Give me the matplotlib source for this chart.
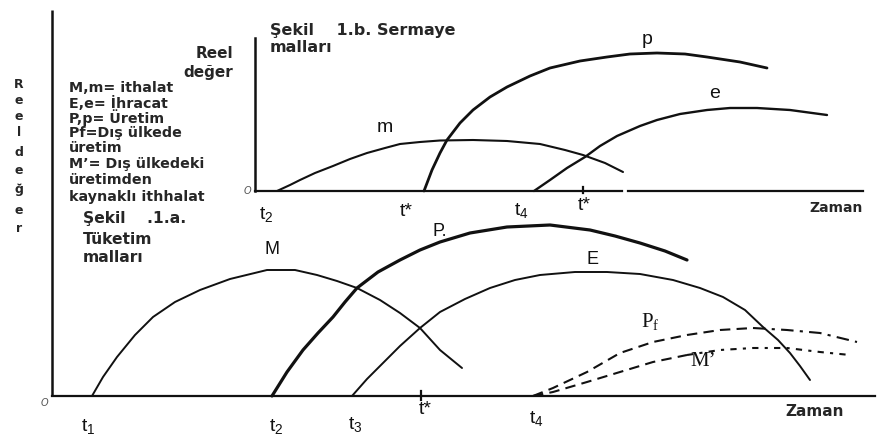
import matplotlib
matplotlib.use("Agg")
import matplotlib.pyplot as plt

plt.rcParams['mathtext.default'] = 'regular'

# ---- curve data (figure-pixel coordinates, y downwards) ----
# Top panel (Şekil 1.b. Sermaye malları)
m_x = [277, 290, 300, 315, 333, 350, 367, 385, 400, 420, 440, 473, 507, 540, 565, 583, 605, 623]
m_y = [191, 185, 180, 173, 166, 159, 153, 148, 144, 142, 140.5, 140, 141, 144, 150, 155, 163, 172]
p_x = [424, 432, 440, 447, 460, 473, 490, 507, 530, 550, 580, 607, 630, 657, 685, 707, 740, 767]
p_y = [191, 170, 153, 140, 123, 110, 97, 87, 76, 68, 61, 57, 54, 53, 54, 57, 62, 68]
e_x = [534, 550, 567, 585, 600, 617, 640, 657, 680, 707, 730, 757, 790, 827]
e_y = [191, 180, 168, 157, 146, 136, 126, 120, 114, 110, 108, 108, 110, 115]

# Bottom panel (Şekil 1.a. Tüketim malları)
M_x = [92, 103, 117, 135, 153, 175, 200, 230, 267, 295, 317, 337, 357, 380, 400, 420, 440, 462]
M_y = [396, 377, 357, 335, 317, 302, 290, 279, 270, 270, 275, 281, 288, 300, 313, 328, 350, 368]
P_x = [272, 287, 303, 318, 333, 345, 357, 378, 400, 420, 440, 470, 507, 550, 590, 615, 640, 665, 687]
P_y = [396, 372, 350, 333, 317, 302, 288, 272, 260, 250, 242, 233, 227, 225, 230, 236, 243, 251, 260]
E_x = [352, 367, 383, 400, 420, 440, 465, 490, 515, 540, 575, 607, 640, 673, 700, 723, 745, 763, 778, 790, 800, 810]
E_y = [396, 379, 363, 346, 328, 312, 299, 288, 280, 275, 272, 272, 274, 280, 288, 297, 310, 327, 340, 353, 366, 380]
Pf_x = [533, 553, 587, 620, 653, 687, 720, 753, 787, 820, 857]
Pf_y = [396, 388, 372, 353, 342, 335, 330, 328, 330, 333, 342]
Mp_x = [533, 553, 587, 620, 653, 687, 720, 753, 787, 820, 850]
Mp_y = [396, 392, 382, 372, 362, 355, 350, 348, 348, 352, 355]

# axes frames
outer_vx = [52, 52]; outer_vy = [10, 396]
bottom_hx = [52, 875]; bottom_hy = [396, 396]
top_vx = [255, 255]; top_vy = [38, 191]
top_hx1 = [255, 622]; top_hx2 = [628, 863]; top_hy = [191, 191]

legend_lines = ["M,m= ithalat", "E,e= İhracat", "P,p= Üretim", "Pf=Dış ülkede",
                "üretim", "M’= Dış ülkedeki", "üretimden", "kaynaklı ithhalat"]
ylabel_letters = list("Reeldeğer")

fig = plt.figure(figsize=(8.77, 4.41), dpi=100)
ax = fig.add_axes([0, 0, 1, 1])
ax.set_xlim(0, 877)
ax.set_ylim(441, 0)
ax.axis('off')

ink = '#111111'
txt = '#262626'
# frames
ax.plot(outer_vx, outer_vy, color=ink, lw=1.8, solid_capstyle='butt')
ax.plot(bottom_hx, bottom_hy, color=ink, lw=1.6)
ax.plot(top_vx, top_vy, color=ink, lw=1.8)
ax.plot(top_hx1, top_hy, color=ink, lw=1.6)
ax.plot(top_hx2, top_hy, color=ink, lw=1.6)
# ticks at t*
ax.plot([421, 421], [391, 400], color=ink, lw=1.6)
ax.plot([583, 583], [187, 193], color=ink, lw=1.6)

# curves
kw = dict(solid_joinstyle='round', solid_capstyle='round')
ax.plot(m_x, m_y, color=ink, lw=1.5, **kw)
ax.plot(p_x, p_y, color=ink, lw=2.0, **kw)
ax.plot(e_x, e_y, color=ink, lw=1.7, **kw)
ax.plot(M_x, M_y, color=ink, lw=1.4, **kw)
ax.plot(P_x, P_y, color=ink, lw=2.3, **kw)
ax.plot(E_x, E_y, color=ink, lw=1.4, **kw)
ax.plot(Pf_x[:8], Pf_y[:8], color=ink, lw=1.5, linestyle=(0, (5, 3)))
ax.plot(Pf_x[7:], Pf_y[7:], color=ink, lw=1.5, linestyle=(0, (6, 3, 1.5, 3)))
ax.plot(Mp_x[:6], Mp_y[:6], color=ink, lw=1.5, linestyle=(0, (5, 3)))
ax.plot(Mp_x[5:], Mp_y[5:], color=ink, lw=1.5, linestyle=(0, (3, 3, 1.5, 3)))

# text: left stacked ylabel
ylet_pos = [84, 100, 116, 133, 153, 171, 190, 210, 229]
for ch, yy in zip(ylabel_letters, ylet_pos):
    ax.text(19, yy, ch, ha='center', va='center', fontsize=9, fontweight='bold',
            family='DejaVu Sans', color=txt)

ax.text(233, 53, "Reel", ha='right', va='center', fontsize=11, fontweight='bold', color=txt)
ax.text(233, 72, "değer", ha='right', va='center', fontsize=11, fontweight='bold', color=txt)

leg_y = [88, 103, 118, 133, 148, 164, 180, 197]
for s, yy in zip(legend_lines, leg_y):
    ax.text(69, yy, s, ha='left', va='center', fontsize=10.3, fontweight='bold', color=txt)

ax.text(270, 30, "Şekil    1.b. Sermaye", ha='left', va='center', fontsize=11.5,
        fontweight='bold', color=txt)
ax.text(270, 48, "malları", ha='left', va='center', fontsize=11.5, fontweight='bold', color=txt)
ax.text(83, 219, "Şekil    .1.a.", ha='left', va='center', fontsize=11.2, fontweight='bold', color=txt)
ax.text(83, 239, "Tüketim", ha='left', va='center', fontsize=11.2, fontweight='bold', color=txt)
ax.text(83, 258, "malları", ha='left', va='center', fontsize=11.2, fontweight='bold', color=txt)

# origin marks
ax.text(44, 403, "O", ha='center', va='center', fontsize=7, style='italic', color='#555')
ax.text(247, 191, "O", ha='center', va='center', fontsize=7, style='italic', color='#555')

sans = 'Liberation Sans'
# top panel ticks labels
ax.text(266, 215, "t$_2$", ha='center', va='center', fontsize=14, family=sans, color=ink)
ax.text(406, 212, "t*", ha='center', va='center', fontsize=14, family=sans, color=ink)
ax.text(521, 210, "t$_4$", ha='center', va='center', fontsize=14, family=sans, color=ink)
ax.text(584, 206, "t*", ha='center', va='center', fontsize=14, family=sans, color=ink)
ax.text(836, 208, "Zaman", ha='center', va='center', fontsize=10, fontweight='bold', color=txt)
# bottom panel tick labels
ax.text(88, 427, "t$_1$", ha='center', va='center', fontsize=14, family=sans, color=ink)
ax.text(276, 427, "t$_2$", ha='center', va='center', fontsize=14, family=sans, color=ink)
ax.text(355, 425, "t$_3$", ha='center', va='center', fontsize=14, family=sans, color=ink)
ax.text(425, 410, "t*", ha='center', va='center', fontsize=14, family=sans, color=ink)
ax.text(536, 418, "t$_4$", ha='center', va='center', fontsize=14, family=sans, color=ink)
ax.text(815, 411, "Zaman", ha='center', va='center', fontsize=11, fontweight='bold', color=txt)

# curve labels
ax.text(385, 128, "m", ha='center', va='center', fontsize=14, family=sans, color=ink)
ax.text(647, 40, "p", ha='center', va='center', fontsize=14, family=sans, color=ink)
ax.text(715, 93, "e", ha='center', va='center', fontsize=14, family=sans, color=ink)
ax.text(272, 250, "M", ha='center', va='center', fontsize=13, family=sans, color=ink)
ax.text(440, 231, "P.", ha='center', va='center', fontsize=13, family=sans, color=ink)
ax.text(593, 260, "E", ha='center', va='center', fontsize=13, family=sans, color=ink)
ax.text(650, 322, "P$_f$", ha='center', va='center', fontsize=15, family='Liberation Serif', color=ink)
ax.text(703, 362, "M’", ha='center', va='center', fontsize=15, family='Liberation Serif', color=ink)

fig.savefig("out.png", dpi=100)
